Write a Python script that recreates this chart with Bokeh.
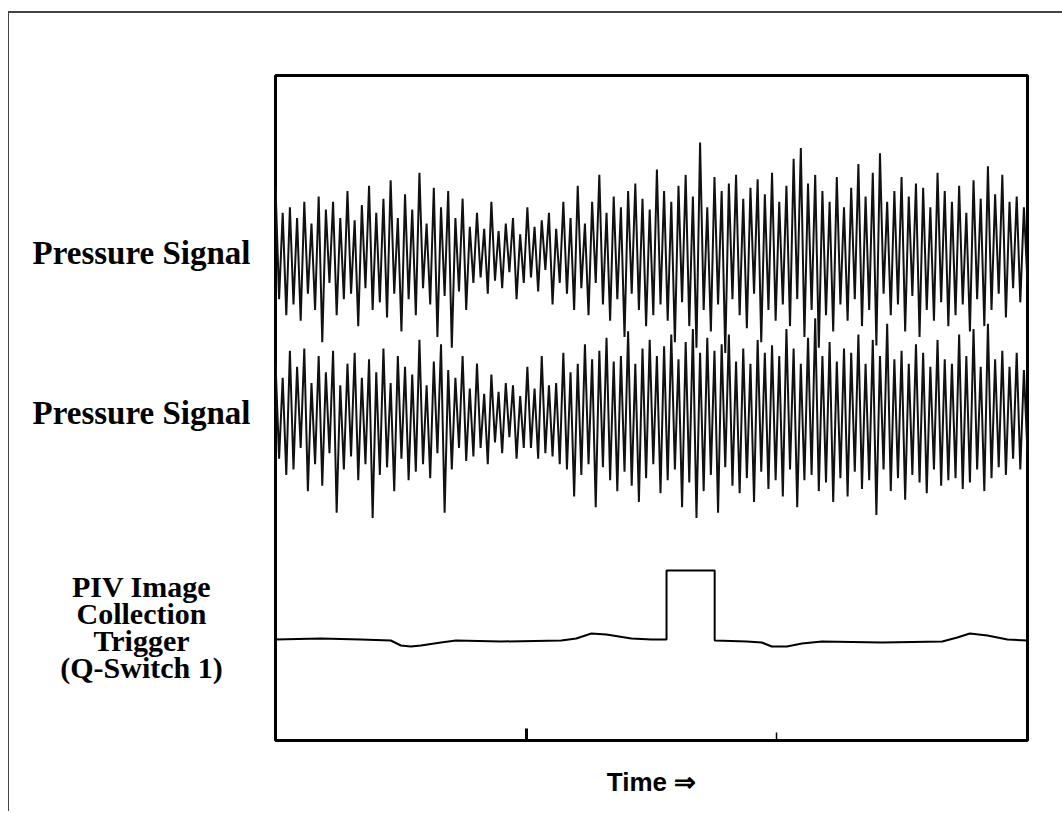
from bokeh.plotting import figure
from bokeh.models import Range1d, FixedTicker
from bokeh.layouts import row
from bokeh.embed import file_html
from bokeh.resources import INLINE
from bokeh.core.properties import value
import numpy as np

# ---------------- data ----------------
pressure_1 = [
    60, -45, 35, -60, 40, -50, 30, -65, 45, -40,
    25, -55, 50, -85, 38, -30, 45, -60, 30, -45,
    55, -40, 28, -70, 42, -35, 60, -55, 35, -48,
    48, -62, 65, -40, 30, -75, 52, -45, 38, -60,
    72, -35, 25, -50, 58, -80, 40, -42, 55, -90,
    30, -38, 48, -55, 22, -30, 35, -25, 20, -40,
    45, -28, 18, -35, 25, -20, 30, -45, 15, -30,
    40, -25, 22, -38, 28, -18, 35, -50, 20, -30,
    45, -40, 30, -55, 60, -35, 25, -60, 45, -30,
    70, -50, 35, -65, 50, -45, 40, -80, 55, -40,
    62, -55, 48, -70, 38, -60, 75, -50, 55, -65,
    45, -85, 60, -48, 70, -70, 50, -90, 100, -55,
    40, -75, 68, -50, 55, -95, 62, -45, 70, -60,
    48, -72, 58, -40, 66, -85, 52, -55, 72, -65,
    45, -50, 60, -70, 85, -45, 95, -80, 62, -55,
    70, -90, 55, -60, 45, -75, 68, -50, 40, -65,
    58, -45, 80, -70, 50, -55, 72, -88, 90, -40,
    45, -60, 55, -50, 68, -75, 50, -42, 62, -80,
    58, -55, 40, -65, 72, -48, 55, -70, 45, -60,
    60, -50, 35, -75, 65, -45, 48, -70, 78, -55,
    52, -40, 70, -62, 45, -35, 50, -48, 40, -30,
]

pressure_2 = [
    50, -40, 35, -55, 60, -50, 45, -30, 62, -70,
    30, -45, 55, -65, 40, -35, 60, -90, 28, -50,
    48, -38, 58, -60, 35, -45, 52, -95, 40, -55,
    62, -48, 30, -70, 55, -40, 45, -60, 38, -52,
    70, -45, 28, -58, 50, -35, 66, -90, 42, -50,
    35, -30, 55, -42, 25, -38, 48, -30, 20, -45,
    38, -25, 22, -35, 30, -20, 28, -40, 18, -30,
    45, -30, 25, -40, 55, -35, 28, -38, 30, -45,
    58, -50, 40, -75, 48, -55, 66, -45, 52, -85,
    60, -48, 72, -60, 50, -70, 55, -52, 78, -65,
    48, -80, 62, -58, 70, -45, 55, -72, 64, -60,
    75, -50, 52, -85, 68, -62, 80, -95, 58, -70,
    72, -55, 60, -90, 66, -48, 75, -65, 50, -72,
    62, -58, 48, -80, 70, -52, 58, -68, 65, -60,
    55, -75, 80, -50, 62, -85, 48, -60, 72, -55,
    90, -70, 55, -62, 68, -80, 50, -58, 62, -75,
    58, -52, 75, -68, 48, -60, 70, -92, 55, -50,
    85, -70, 52, -58, 60, -78, 48, -55, 66, -62,
    58, -72, 45, -50, 70, -65, 52, -60, 48, -58,
    75, -68, 55, -62, 80, -50, 45, -70, 85, -58,
    52, -48, 60, -55, 45, -40, 58, -50, 42, -35,
]

trigger_t = [0, 18, 34, 46, 50, 54, 58, 66, 72, 90, 114, 120, 126, 132,
             142, 150, 156, 156, 175.2, 175.2, 188, 194, 198, 204, 210, 218,
             242, 266, 272, 277, 284, 292, 300]
trigger_v = [0, 1, 0, -1, -6, -7, -6, -3, -1, -2, -1, 1, 6, 5,
             1, 0, 0, 69, 69, -1, -2, -3, -7, -7, -4, -2,
             -3, -2, 2, 6, 4, 0, -1]

time_ticks_major = [100]
time_ticks_minor = [200]
axis_title = "Time \u21d2"
row_labels = ["Pressure Signal", "Pressure Signal",
              "PIV Image", "Collection", "Trigger", "(Q-Switch 1)"]

# ---------------- geometry ----------------
H = 798
T_END = 300
FRAME_TOP = 62          # canvas px (page y 75)
FRAME_H = 665           # page y 75 .. 740
W_LEFT = 260
W_MAIN = 793

# ---------------- main figure ----------------
p = figure(width=W_MAIN, height=H, output_backend="svg", toolbar_location=None,
           x_range=Range1d(0, T_END), y_range=Range1d(0, FRAME_H),
           min_border_left=6, min_border_right=W_MAIN - 6 - 752,
           min_border_top=FRAME_TOP, min_border_bottom=H - FRAME_TOP - FRAME_H)
p.outline_line_color = "black"
p.outline_line_width = 3
p.grid.visible = False
p.yaxis.visible = False

xa = p.xaxis[0]
xa.ticker = FixedTicker(ticks=time_ticks_major, minor_ticks=time_ticks_minor)
xa.axis_line_color = None
xa.major_tick_in = 12
xa.major_tick_out = 0
xa.major_tick_line_width = 3
xa.major_tick_line_color = "black"
xa.minor_tick_in = 8
xa.minor_tick_out = 0
xa.minor_tick_line_width = 1.5
xa.minor_tick_line_color = "black"
xa.major_label_overrides = {t: "" for t in time_ticks_major}
xa.major_label_standoff = 0
xa.axis_label = axis_title
xa.axis_label_text_font = "Liberation Sans"
xa.axis_label_text_font_style = "bold"
xa.axis_label_text_font_size = "26px"
xa.axis_label_text_color = "black"
xa.axis_label_standoff = 26

t1 = np.linspace(0, T_END, len(pressure_1))
p.line(t1, np.array(pressure_1) * 1.08 + (740 - 250), line_color="#111111", line_width=2)

t2 = np.linspace(0, T_END, len(pressure_2))
p.line(t2, np.array(pressure_2) * 1.08 + (740 - 415), line_color="#111111", line_width=2)

p.line(trigger_t, np.array(trigger_v) + (740 - 639), line_color="black", line_width=2)

# ---------------- left label panel (shares the main y scale) ----------------
q = figure(width=W_LEFT, height=H, output_backend="svg", toolbar_location=None,
           x_range=Range1d(0, W_LEFT), y_range=p.y_range,
           x_axis_type=None, y_axis_type=None,
           min_border_left=0, min_border_right=0,
           min_border_top=FRAME_TOP, min_border_bottom=H - FRAME_TOP - FRAME_H)
q.outline_line_color = None
q.grid.visible = False

lab_x = [132] * 6
baselines_page = [252, 412, 586, 613, 640, 667]
lab_y = [740 - b for b in baselines_page]
lab_size = ["33px", "33px", "30px", "30px", "30px", "30px"]
q.text(x=lab_x, y=lab_y, text=row_labels, text_align="center",
       text_baseline="alphabetic", text_font=value("Liberation Serif"),
       text_font_style="bold", text_font_size=lab_size, text_color="black")

layout = row(q, p, spacing=0,
             styles={"position": "relative", "left": "8px", "top": "11px",
                     "border-top": "2px solid #444", "border-left": "1px solid #444"})

open("out.html", "w").write(file_html(layout, INLINE))
